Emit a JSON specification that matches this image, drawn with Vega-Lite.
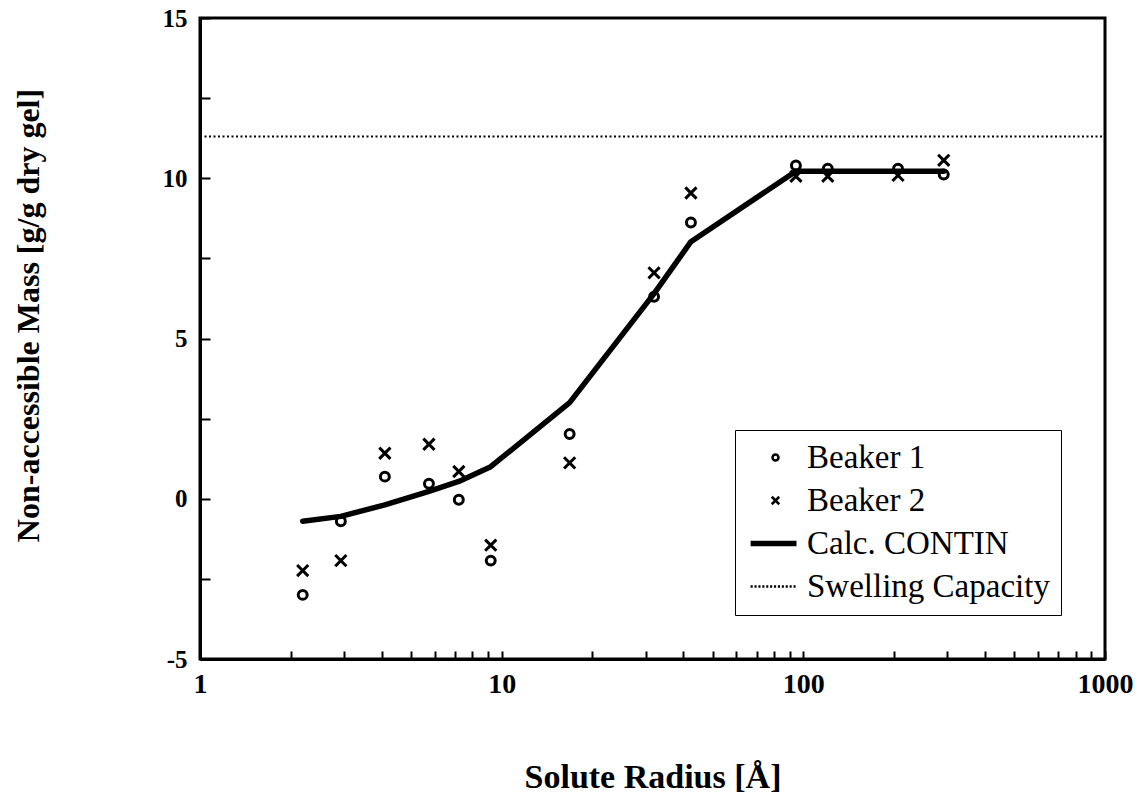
{
  "$schema": "https://vega.github.io/schema/vega-lite/v6.json",
  "width": 905,
  "height": 641,
  "autosize": {"type": "none"},
  "padding": {"left": 200, "top": 18, "right": 35, "bottom": 143},
  "background": "white",
  "config": {
    "view": {"stroke": "black", "strokeWidth": 3},
    "font": "Liberation Serif"
  },
  "datasets": {
    "points": [
      {"series": "Beaker 1", "x": 2.19, "y": -3.0},
      {"series": "Beaker 1", "x": 2.93, "y": -0.7},
      {"series": "Beaker 1", "x": 4.1, "y": 0.69},
      {"series": "Beaker 1", "x": 5.74, "y": 0.47},
      {"series": "Beaker 1", "x": 7.21, "y": -0.03},
      {"series": "Beaker 1", "x": 9.2, "y": -1.93},
      {"series": "Beaker 1", "x": 16.8, "y": 2.02},
      {"series": "Beaker 1", "x": 32, "y": 6.3},
      {"series": "Beaker 1", "x": 42.4, "y": 8.62},
      {"series": "Beaker 1", "x": 94.5, "y": 10.4},
      {"series": "Beaker 1", "x": 120.5, "y": 10.3},
      {"series": "Beaker 1", "x": 206, "y": 10.3},
      {"series": "Beaker 1", "x": 292, "y": 10.12},
      {"series": "Beaker 2", "x": 2.19, "y": -2.24},
      {"series": "Beaker 2", "x": 2.93, "y": -1.93},
      {"series": "Beaker 2", "x": 4.1, "y": 1.42},
      {"series": "Beaker 2", "x": 5.74, "y": 1.7},
      {"series": "Beaker 2", "x": 7.21, "y": 0.85},
      {"series": "Beaker 2", "x": 9.2, "y": -1.45},
      {"series": "Beaker 2", "x": 16.8, "y": 1.12},
      {"series": "Beaker 2", "x": 32, "y": 7.05},
      {"series": "Beaker 2", "x": 42.4, "y": 9.54},
      {"series": "Beaker 2", "x": 94.5, "y": 10.06},
      {"series": "Beaker 2", "x": 120.5, "y": 10.06},
      {"series": "Beaker 2", "x": 206, "y": 10.09},
      {"series": "Beaker 2", "x": 292, "y": 10.56}
    ],
    "curve": [
      {"x": 2.19, "y": -0.7},
      {"x": 2.93, "y": -0.55},
      {"x": 4.1, "y": -0.19},
      {"x": 5.74, "y": 0.23},
      {"x": 7.21, "y": 0.54},
      {"x": 9.2, "y": 1.0},
      {"x": 16.8, "y": 3.0},
      {"x": 32, "y": 6.4},
      {"x": 42.4, "y": 8.02},
      {"x": 94.5, "y": 10.22},
      {"x": 120.5, "y": 10.22},
      {"x": 206, "y": 10.22},
      {"x": 292, "y": 10.22}
    ],
    "swell": [
      {"x": 1, "x2": 1000, "y": 11.3}
    ]
  },
  "encoding": {
    "x": {
      "field": "x",
      "type": "quantitative",
      "scale": {"type": "log", "domain": [1, 1000], "nice": false},
      "axis": {
        "title": "Solute Radius [Å]",
        "titleFont": "Liberation Serif",
        "titleFontSize": 34,
        "titleFontWeight": "bold",
        "titleColor": "black",
        "titleY": 128,
        "titleBaseline": "alphabetic",
        "values": [1,2,3,4,5,6,7,8,9,10,20,30,40,50,60,70,80,90,100,200,300,400,500,600,700,800,900,1000],
        "labelExpr": "indexof([1,10,100,1000], datum.value) >= 0 ? format(datum.value, 'd') : ''",
        "labelFont": "Liberation Serif",
        "labelFontSize": 28,
        "labelFontWeight": "bold",
        "labelColor": "black",
        "labelFlush": false,
        "labelOverlap": false,
        "labelPadding": 19,
        "tickSize": -8,
        "tickWidth": 2,
        "tickColor": "black",
        "domainColor": "black",
        "domainWidth": 3,
        "grid": false,
        "encode": {
          "ticks": {
            "update": {
              "y2": [
                {"test": "indexof([1,10,100,1000], datum.value) >= 0", "value": -10},
                {"value": -6}
              ]
            }
          }
        }
      }
    },
    "y": {
      "field": "y",
      "type": "quantitative",
      "scale": {"domain": [-5, 15], "nice": false, "zero": false},
      "axis": {
        "title": "Non-accessible Mass [g/g dry gel]",
        "titleFont": "Liberation Serif",
        "titleFontSize": 32,
        "titleFontWeight": "bold",
        "titleColor": "black",
        "titleAngle": -90,
        "titleX": -162,
        "titleY": 297,
        "titleAlign": "center",
        "titleBaseline": "alphabetic",
        "values": [-5,-2.5,0,2.5,5,7.5,10,12.5,15],
        "labelExpr": "datum.value % 5 == 0 ? ('' + datum.value) : ''",
        "labelFont": "Liberation Serif",
        "labelFontSize": 25,
        "labelFontWeight": "bold",
        "labelColor": "black",
        "labelFlush": false,
        "labelOverlap": false,
        "labelPadding": 23,
        "tickSize": -10,
        "tickWidth": 2,
        "tickColor": "black",
        "domainColor": "black",
        "domainWidth": 3,
        "grid": false,
        "encode": {
          "ticks": {
            "update": {
              "x2": [
                {"test": "datum.value % 5 == 0", "value": 12},
                {"value": 7}
              ]
            }
          }
        }
      }
    }
  },
  "layer": [
    {
      "data": {"name": "swell"},
      "mark": {"type": "rule", "color": "black", "strokeWidth": 2, "strokeDash": [2, 2.5]},
      "encoding": {
        "x2": {"field": "x2"}
      }
    },
    {
      "data": {"name": "curve"},
      "mark": {"type": "line", "color": "black", "strokeWidth": 5.5, "strokeJoin": "round", "strokeCap": "round"}
    },
    {
      "data": {"name": "points"},
      "mark": {"type": "point", "filled": false, "color": "black", "strokeWidth": 3, "size": 80, "opacity": 1},
      "encoding": {
        "shape": {
          "field": "series",
          "type": "nominal",
          "scale": {
            "domain": ["Beaker 1", "Beaker 2", "Calc. CONTIN", "Swelling Capacity"],
            "range": [
              "circle",
              "M-1.25,-1.25L1.25,1.25M-1.25,1.25L1.25,-1.25",
              "M-8.3,-0.5H7M-8.3,0H7M-8.3,0.5H7",
              "M-8.3,0h0.7M-7,0h0.7M-5.7,0h0.7M-4.4,0h0.7M-3.1,0h0.7M-1.8,0h0.7M-0.5,0h0.7M0.8,0h0.7M2.1,0h0.7M3.4,0h0.7M4.7,0h0.7M6,0h0.7"
            ]
          },
          "legend": {
            "title": null,
            "orient": "none",
            "legendX": 535,
            "legendY": 412,
            "strokeColor": "black",
            "fillColor": "white",
            "padding": 11,
            "symbolOffset": 13,
            "labelOffset": 15,
            "labelFont": "Liberation Serif",
            "labelFontSize": 33,
            "labelColor": "black",
            "labelLimit": 400,
            "rowPadding": 9,
            "symbolSize": 36,
            "symbolStrokeWidth": 2.5,
            "symbolStrokeColor": "black",
            "symbolOpacity": 1,
            "encode": {"legend": {"update": {"strokeWidth": {"value": 2.5}}}}
          }
        }
      }
    }
  ]
}
